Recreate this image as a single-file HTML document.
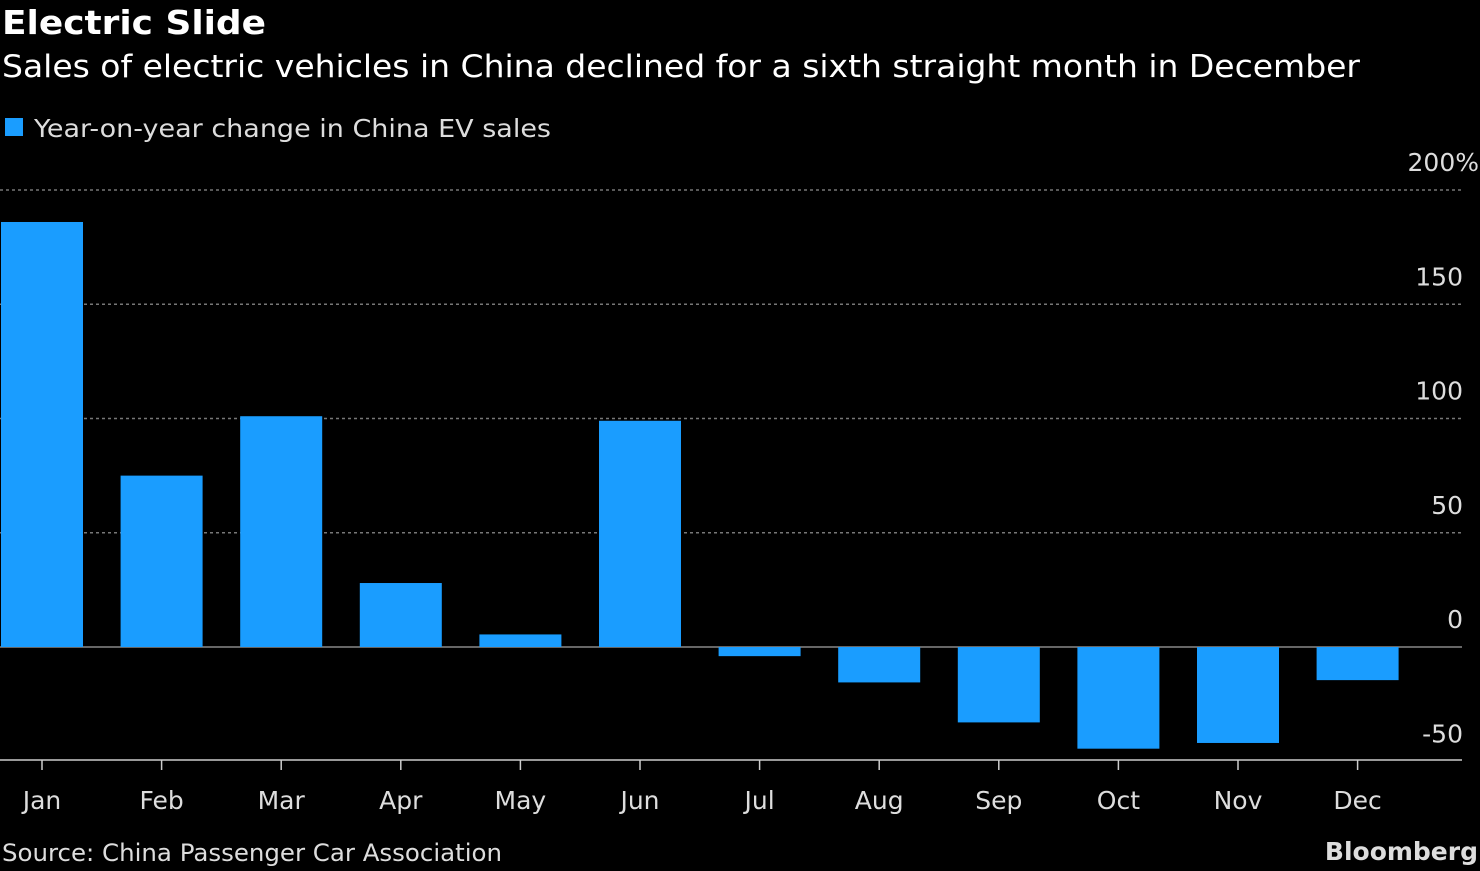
<!DOCTYPE html>
<html><head><meta charset="utf-8"><style>
body{margin:0;background:#000;width:1480px;height:866px;overflow:hidden;font-family:"Liberation Sans",sans-serif;color:#fff}
svg text{font-family:"DejaVu Sans","Liberation Sans",sans-serif}
</style></head><body>
<svg width="1480" height="866">
<text x="2" y="34" font-size="33" font-weight="bold" fill="#fff" textLength="264" lengthAdjust="spacingAndGlyphs">Electric Slide</text>
<text x="2" y="77" font-size="31" fill="#fff" textLength="1358" lengthAdjust="spacingAndGlyphs">Sales of electric vehicles in China declined for a sixth straight month in December</text>
<rect x="5" y="118" width="18" height="18" fill="#1a9dff"/>
<text x="34" y="137" font-size="25" fill="#ddd" textLength="517" lengthAdjust="spacingAndGlyphs">Year-on-year change in China EV sales</text>
<g id="grid"></g><g id="bars"></g><g id="xaxis"></g>
<text x="2" y="861" font-size="24" fill="#ddd" textLength="500" lengthAdjust="spacingAndGlyphs">Source: China Passenger Car Association</text>
<text x="1478" y="860" font-size="25" font-weight="bold" fill="#ddd" text-anchor="end">Bloomberg</text>
</svg>
<script>
const categories=["Jan","Feb","Mar","Apr","May","Jun","Jul","Aug","Sep","Oct","Nov","Dec"];
const values=[186,75,101,28,5.5,99,-4,-15.5,-33,-44.5,-42,-14.5];
const yTicks=[200,150,100,50,0,-50];
const yTickLabels=["200%","150","100","50","0","-50"];
const NS="http://www.w3.org/2000/svg";
const y=v=>647-v*2.285;
const x=i=>42+i*119.6;
const bw=82;
const grid=document.getElementById('grid'),bars=document.getElementById('bars'),xa=document.getElementById('xaxis');
function mk(tag,attrs,parent){const e=document.createElementNS(NS,tag);for(const k in attrs)e.setAttribute(k,attrs[k]);parent.appendChild(e);return e;}
yTicks.forEach((t,i)=>{
  if(t!==0&&t!==-50){const l=mk('line',{x1:0,x2:1462,y1:y(t),y2:y(t),stroke:'#777','stroke-dasharray':'3,3','stroke-width':1.5},grid);
  
  }
  const lab=yTickLabels[i];
  const tx=mk('text',{x:lab.endsWith('%')?1479:1463,y:y(t)-19,'font-size':25,fill:'#ddd','text-anchor':'end'},grid);
  tx.textContent=lab;
  
  
});
values.forEach((v,i)=>{
  const r=mk('rect',{x:x(i)-bw/2,y:Math.min(y(v),y(0)),width:bw,height:Math.abs(y(v)-y(0)),fill:'#1a9dff'},bars);
  
  
});
const z=mk('line',{x1:0,x2:1462,y1:y(0),y2:y(0),stroke:'#888','stroke-width':1.5},grid);


const ax=mk('line',{x1:0,x2:1462,y1:760,y2:760,stroke:'#ccc','stroke-width':1.5},xa);


categories.forEach((c,i)=>{
  const tk=mk('line',{x1:x(i),x2:x(i),y1:760,y2:770,stroke:'#ccc','stroke-width':1.5},xa);
  
  
  const t=mk('text',{x:x(i),y:809,'font-size':25,fill:'#ddd','text-anchor':'middle'},xa);
  t.textContent=c;
  
  
});
</script>
</body></html>
